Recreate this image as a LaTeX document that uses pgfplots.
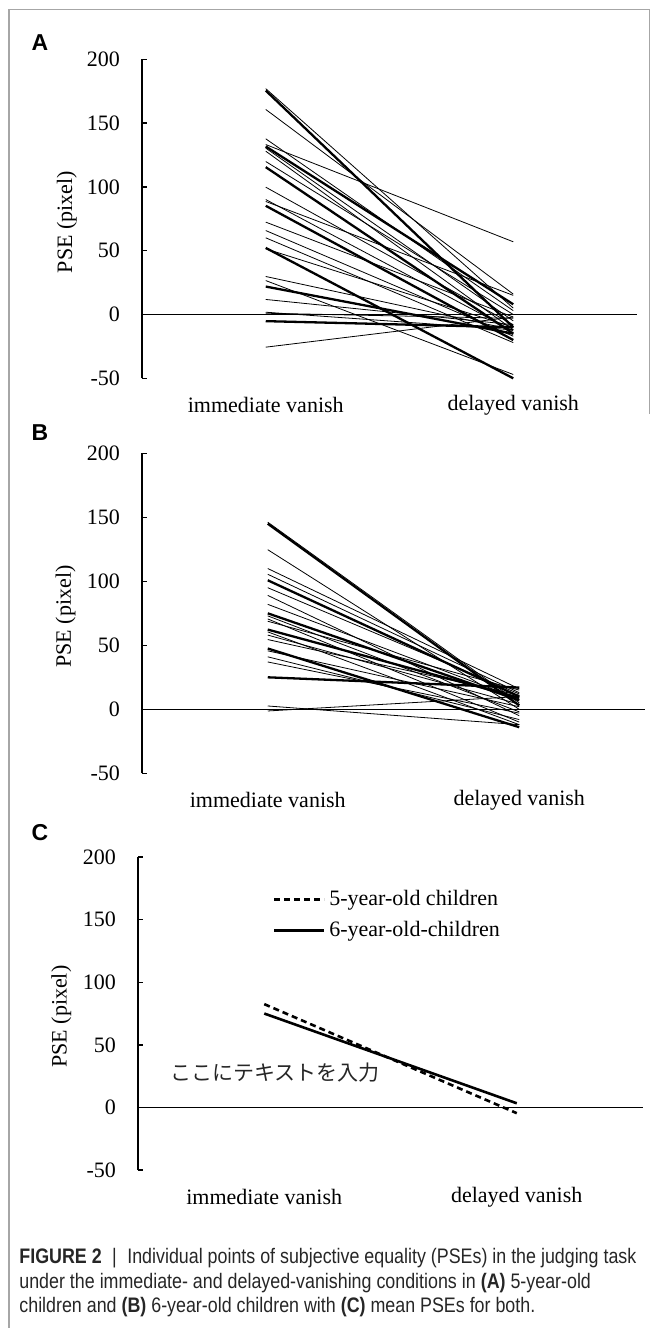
\documentclass[border=0pt]{standalone}
\usepackage{fontspec}
\usepackage{pgfplots}
\pgfplotsset{compat=1.18}
\setmainfont{Liberation Serif}
\newfontfamily\capfont[FakeStretch=0.85]{Liberation Sans}
\newfontfamily\labfont{Liberation Sans}
\newfontfamily\cjk{Noto Sans CJK JP}

\pgfplotsset{panel/.style={
  scale only axis, xmin=0.5, xmax=2.5, ymin=-50, ymax=200,
  axis x line*=bottom, axis y line*=left,
  x axis line style={draw=none},
  xtick={1,2}, xticklabels={immediate vanish, delayed vanish},
  xtick style={draw=none},
  ytick={-50,0,50,100,150,200},
  tick align=inside, major tick length=2.5pt,
  ytick style={line width=0.7pt, black},
  y axis line style={line width=0.7pt, black},
  /pgf/number format/assume math mode=true,
  tick label style={font=\fontsize{11}{13}\selectfont},
  yticklabel style={xshift=-7.5pt},
  xticklabel style={anchor=center, yshift=-13.5pt},
  ylabel={PSE (pixel)},
  ylabel style={font=\fontsize{11}{13}\selectfont, at={(axis description cs:-0.152,0.49)}, anchor=center},
  clip=false,
  cycle list={{black, solid, line width=1.15pt, mark=none}},
}}

\begin{document}
\begin{tikzpicture}
\path[use as bounding box] (0pt,0pt) rectangle (327.5pt,-664pt);
\draw[black!35, line width=0.6pt] (4.5pt,-664pt) -- (4.5pt,-4.6pt) -- (324.8pt,-4.6pt) -- (324.8pt,-207pt);

% ---------- Panel A ----------
\begin{axis}[panel, at={(71pt,-189.15pt)}, anchor=south west, width=247.5pt, height=159.5pt]
\addplot[black, line width=0.75pt] coordinates {(0.5,0) (2.5,0)};
\addplot coordinates {(1,177) (2,5)};
\addplot coordinates {(1,175.5) (2,-10)};
\addplot coordinates {(1,160.7) (2,16)};
\addplot coordinates {(1,137.7) (2,3)};
\addplot coordinates {(1,133.2) (2,57)};
\addplot coordinates {(1,131.7) (2,8)};
\addplot coordinates {(1,130.4) (2,-5)};
\addplot coordinates {(1,128) (2,-12)};
\addplot coordinates {(1,119.9) (2,0)};
\addplot coordinates {(1,115.5) (2,-15)};
\addplot coordinates {(1,99.8) (2,-8)};
\addplot coordinates {(1,90.1) (2,-13)};
\addplot coordinates {(1,88.6) (2,15)};
\addplot coordinates {(1,85.2) (2,-20)};
\addplot coordinates {(1,72.4) (2,-2)};
\addplot coordinates {(1,65.8) (2,-17)};
\addplot coordinates {(1,60.1) (2,-22)};
\addplot coordinates {(1,52.2) (2,-50)};
\addplot coordinates {(1,51.5) (2,-10)};
\addplot coordinates {(1,29.8) (2,-12)};
\addplot coordinates {(1,26.6) (2,-47)};
\addplot coordinates {(1,21.9) (2,-15)};
\addplot coordinates {(1,11.8) (2,-8)};
\addplot coordinates {(1,1.8) (2,-12)};
\addplot coordinates {(1,1.0) (2,-3)};
\addplot coordinates {(1,-5.2) (2,-10)};
\addplot coordinates {(1,-25.6) (2,-2)};
\end{axis}
\node[font=\labfont\bfseries\fontsize{11.5}{13}\selectfont] at (20pt,-21.5pt) {A};

% ---------- Panel B ----------
\begin{axis}[panel, at={(71pt,-386.65pt)}, anchor=south west, width=251.5pt, height=160pt]
\addplot[black, line width=0.75pt] coordinates {(0.5,0) (2.5,0)};
\addplot coordinates {(1,146.2) (2,5)};
\addplot coordinates {(1,145) (2,3)};
\addplot coordinates {(1,124.7) (2,0)};
\addplot coordinates {(1,110) (2,16)};
\addplot coordinates {(1,105.5) (2,13)};
\addplot coordinates {(1,100.8) (2,10)};
\addplot coordinates {(1,95) (2,12)};
\addplot coordinates {(1,89) (2,-5)};
\addplot coordinates {(1,82) (2,8)};
\addplot coordinates {(1,75) (2,7)};
\addplot coordinates {(1,73) (2,-2)};
\addplot coordinates {(1,70.6) (2,-10)};
\addplot coordinates {(1,68.8) (2,15)};
\addplot coordinates {(1,62.3) (2,9)};
\addplot coordinates {(1,60.5) (2,-12)};
\addplot coordinates {(1,58) (2,4)};
\addplot coordinates {(1,54.5) (2,11)};
\addplot coordinates {(1,47.5) (2,-14)};
\addplot coordinates {(1,45.7) (2,2)};
\addplot coordinates {(1,41) (2,-8)};
\addplot coordinates {(1,37) (2,-3)};
\addplot coordinates {(1,25) (2,17)};
\addplot coordinates {(1,2.6) (2,-12)};
\addplot coordinates {(1,-1.3) (2,10)};
\end{axis}
\node[font=\labfont\bfseries\fontsize{11.5}{13}\selectfont] at (20pt,-216.5pt) {B};

% ---------- Panel C ----------
\begin{axis}[panel, at={(69pt,-585pt)}, anchor=south west, width=252.5pt, height=156.5pt,
  legend style={draw=none, fill=none, at={(axis cs:1.032,177)}, anchor=north west,
    font=\fontsize{11}{13}\selectfont, row sep=2.5pt, inner sep=0pt},
  legend cell align=left,
  legend image code/.code={\draw[#1] (0pt,0pt) -- (25pt,0pt);}]
\addplot[black, line width=0.75pt, forget plot] coordinates {(0.5,0) (2.5,0)};
\addplot[black, line width=1.3pt, dash pattern=on 3pt off 2pt] coordinates {(1,82.5) (2,-4.6)};
\addlegendentry{5-year-old children}
\addplot[black, line width=1.3pt] coordinates {(1,75) (2,3.3)};
\addlegendentry{6-year-old-children}
\node[font=\cjk\fontsize{10.5}{12}\selectfont, text=black!85] at (axis cs:1.043,28) {ここにテキストを入力};
\end{axis}
\node[font=\labfont\bfseries\fontsize{11.5}{13}\selectfont] at (20pt,-416.5pt) {C};

% ---------- Caption ----------
\begin{scope}[every node/.style={anchor=base west, inner sep=0pt, text=black!85, font=\capfont\fontsize{10.5}{12}\selectfont}]
\node at (9.5pt,-631.75pt) {{\bfseries FIGURE 2}\enspace|\enspace Individual points of subjective equality (PSEs) in the judging task};
\node at (9.5pt,-644.25pt) {under the immediate- and delayed-vanishing conditions in {\bfseries (A)} 5-year-old};
\node at (9.5pt,-656.25pt) {children and {\bfseries (B)} 6-year-old children with {\bfseries (C)} mean PSEs for both.};
\end{scope}
\end{tikzpicture}
\end{document}
